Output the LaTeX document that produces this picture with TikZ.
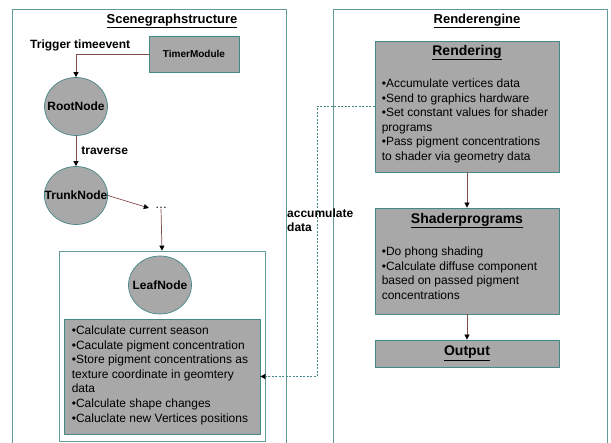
\documentclass[tikz,border=0pt]{standalone}
\usepackage{fontspec}
\setmainfont{Liberation Sans}
\usetikzlibrary{shapes.geometric,arrows.meta,positioning}
\definecolor{boxgray}{RGB}{168,168,168}
\definecolor{edgeteal}{RGB}{70,135,135}
\definecolor{wire}{RGB}{130,75,75}
\tikzset{
	panel/.style={draw=edgeteal!85,line width=.8pt},
	graybox/.style={draw=edgeteal,fill=boxgray,line width=.8pt,minimum width=184pt,inner sep=0pt},
	treenode/.style={ellipse,draw=edgeteal,fill=boxgray,line width=.7pt,minimum width=63pt,minimum height=58pt,inner xsep=-9pt,inner ysep=0pt,font=\fontsize{12}{14}\selectfont\bfseries},
	head/.style={inner sep=0pt,font=\fontsize{14}{16}\selectfont\bfseries},
	body/.style={align=left,inner sep=0pt,font=\fontsize{12}{14.6}\selectfont},
	lbl/.style={inner sep=0pt,font=\fontsize{12}{14}\selectfont\bfseries},
	conn/.style={draw=wire,line width=.7pt,->},
}
\begin{document}
\begin{tikzpicture}[x=1pt,y=-1pt,>={Triangle[length=5pt,width=5pt,color=black]},line join=round]
	\useasboundingbox (0,0) rectangle (611,443);
	% the two panels, open at the bottom
	\draw[panel] (12.5,446)--(12.5,9)--(286,9)--(286,446);
	\draw[panel] (333,446)--(333,9)--(607,9)--(607,446);
	\node[lbl,font=\fontsize{13}{15}\selectfont\bfseries] (scenetitle) at (172,21) {\underline{Scenegraphstructure}};
	\node[lbl,font=\fontsize{13}{15}\selectfont\bfseries] (rendertitle) at (477,21) {\underline{Renderengine}};
	% scenegraph side
	\node[graybox,minimum width=90pt,minimum height=36pt,font=\fontsize{10}{12}\selectfont\bfseries] (timer) at (194,54) {TimerModule};
	\node[lbl,anchor=west] (trigger) at (30,45) {Trigger timeevent};
	\node[treenode] (root) at (76,106.5) {RootNode};
	\node[treenode] (trunk) at (76,195.5) {TrunkNode};
	\node[lbl,font=\fontsize{12}{14}\selectfont,minimum width=24pt] (dots) at (161,208) {\dots};
	\node[draw=edgeteal!85,line width=.8pt,minimum width=206pt,minimum height=190pt] (leafbox) at (162,346) {};
	\node[treenode] (leaf) at (160,285) {LeafNode};
	\node[graybox,minimum width=196pt,minimum height=115pt] (leafinfo) at (162,376.5) {};
	\node[body,anchor=north west] (leaftext) at ([xshift=8,yshift=-7]leafinfo.north west) {%
		•Calculate current season\\
		•Caculate pigment concentration\\
		•Store pigment concentrations as\\
		texture coordinate in geomtery\\
		data\\
		•Calculate shape changes\\
		•Caluclate new Vertices positions};
	\draw[conn] (timer.west) -| (root.north);
	\draw[conn] (root.south) -- node[lbl,right=5pt]{traverse} (trunk.north);
	\draw[conn] (trunk.east) -- (dots.west);
	\draw[conn] (dots.south) -- (leafbox.north);
	% render engine side
	\node[graybox,minimum height=131pt] (render) at (467,106.5) {};
	\node[head] at ([yshift=-12]render.north) {\underline{Rendering}};
	\node[body,anchor=north west] (rendertext) at ([xshift=7,yshift=-38]render.north west) {%
		•Accumulate vertices data\\
		•Send to graphics hardware\\
		•Set constant values for shader\\
		programs\\
		•Pass pigment concentrations\\
		to shader via geometry data};
	\node[graybox,minimum height=106pt] (shader) at (467,261) {};
	\node[head] at ([yshift=-13]shader.north) {\underline{Shaderprograms}};
	\node[body,anchor=north west] (shadertext) at ([xshift=7,yshift=-39]shader.north west) {%
		•Do phong shading\\
		•Calculate diffuse component\\
		based on passed pigment\\
		concentrations};
	\node[graybox,minimum height=27pt,font=\fontsize{14}{16}\selectfont\bfseries] (output) at (467,353.5) {\underline{Output}};
	\draw[conn] (render.south) -- (shader.north);
	\draw[conn] (shader.south) -- (output.north);
	% data flow back to the leaves
	\coordinate (bend) at (317,106.5);
	\draw[draw=edgeteal,line width=.9pt,dash pattern=on 2pt off 1.5pt,->] (render.west) -- (bend) |- (leafinfo.east);
	\node[lbl,anchor=west,align=left,font=\fontsize{12}{13.5}\selectfont\bfseries] (accu) at (287,220) {accumulate\\data};
\end{tikzpicture}
\end{document}
